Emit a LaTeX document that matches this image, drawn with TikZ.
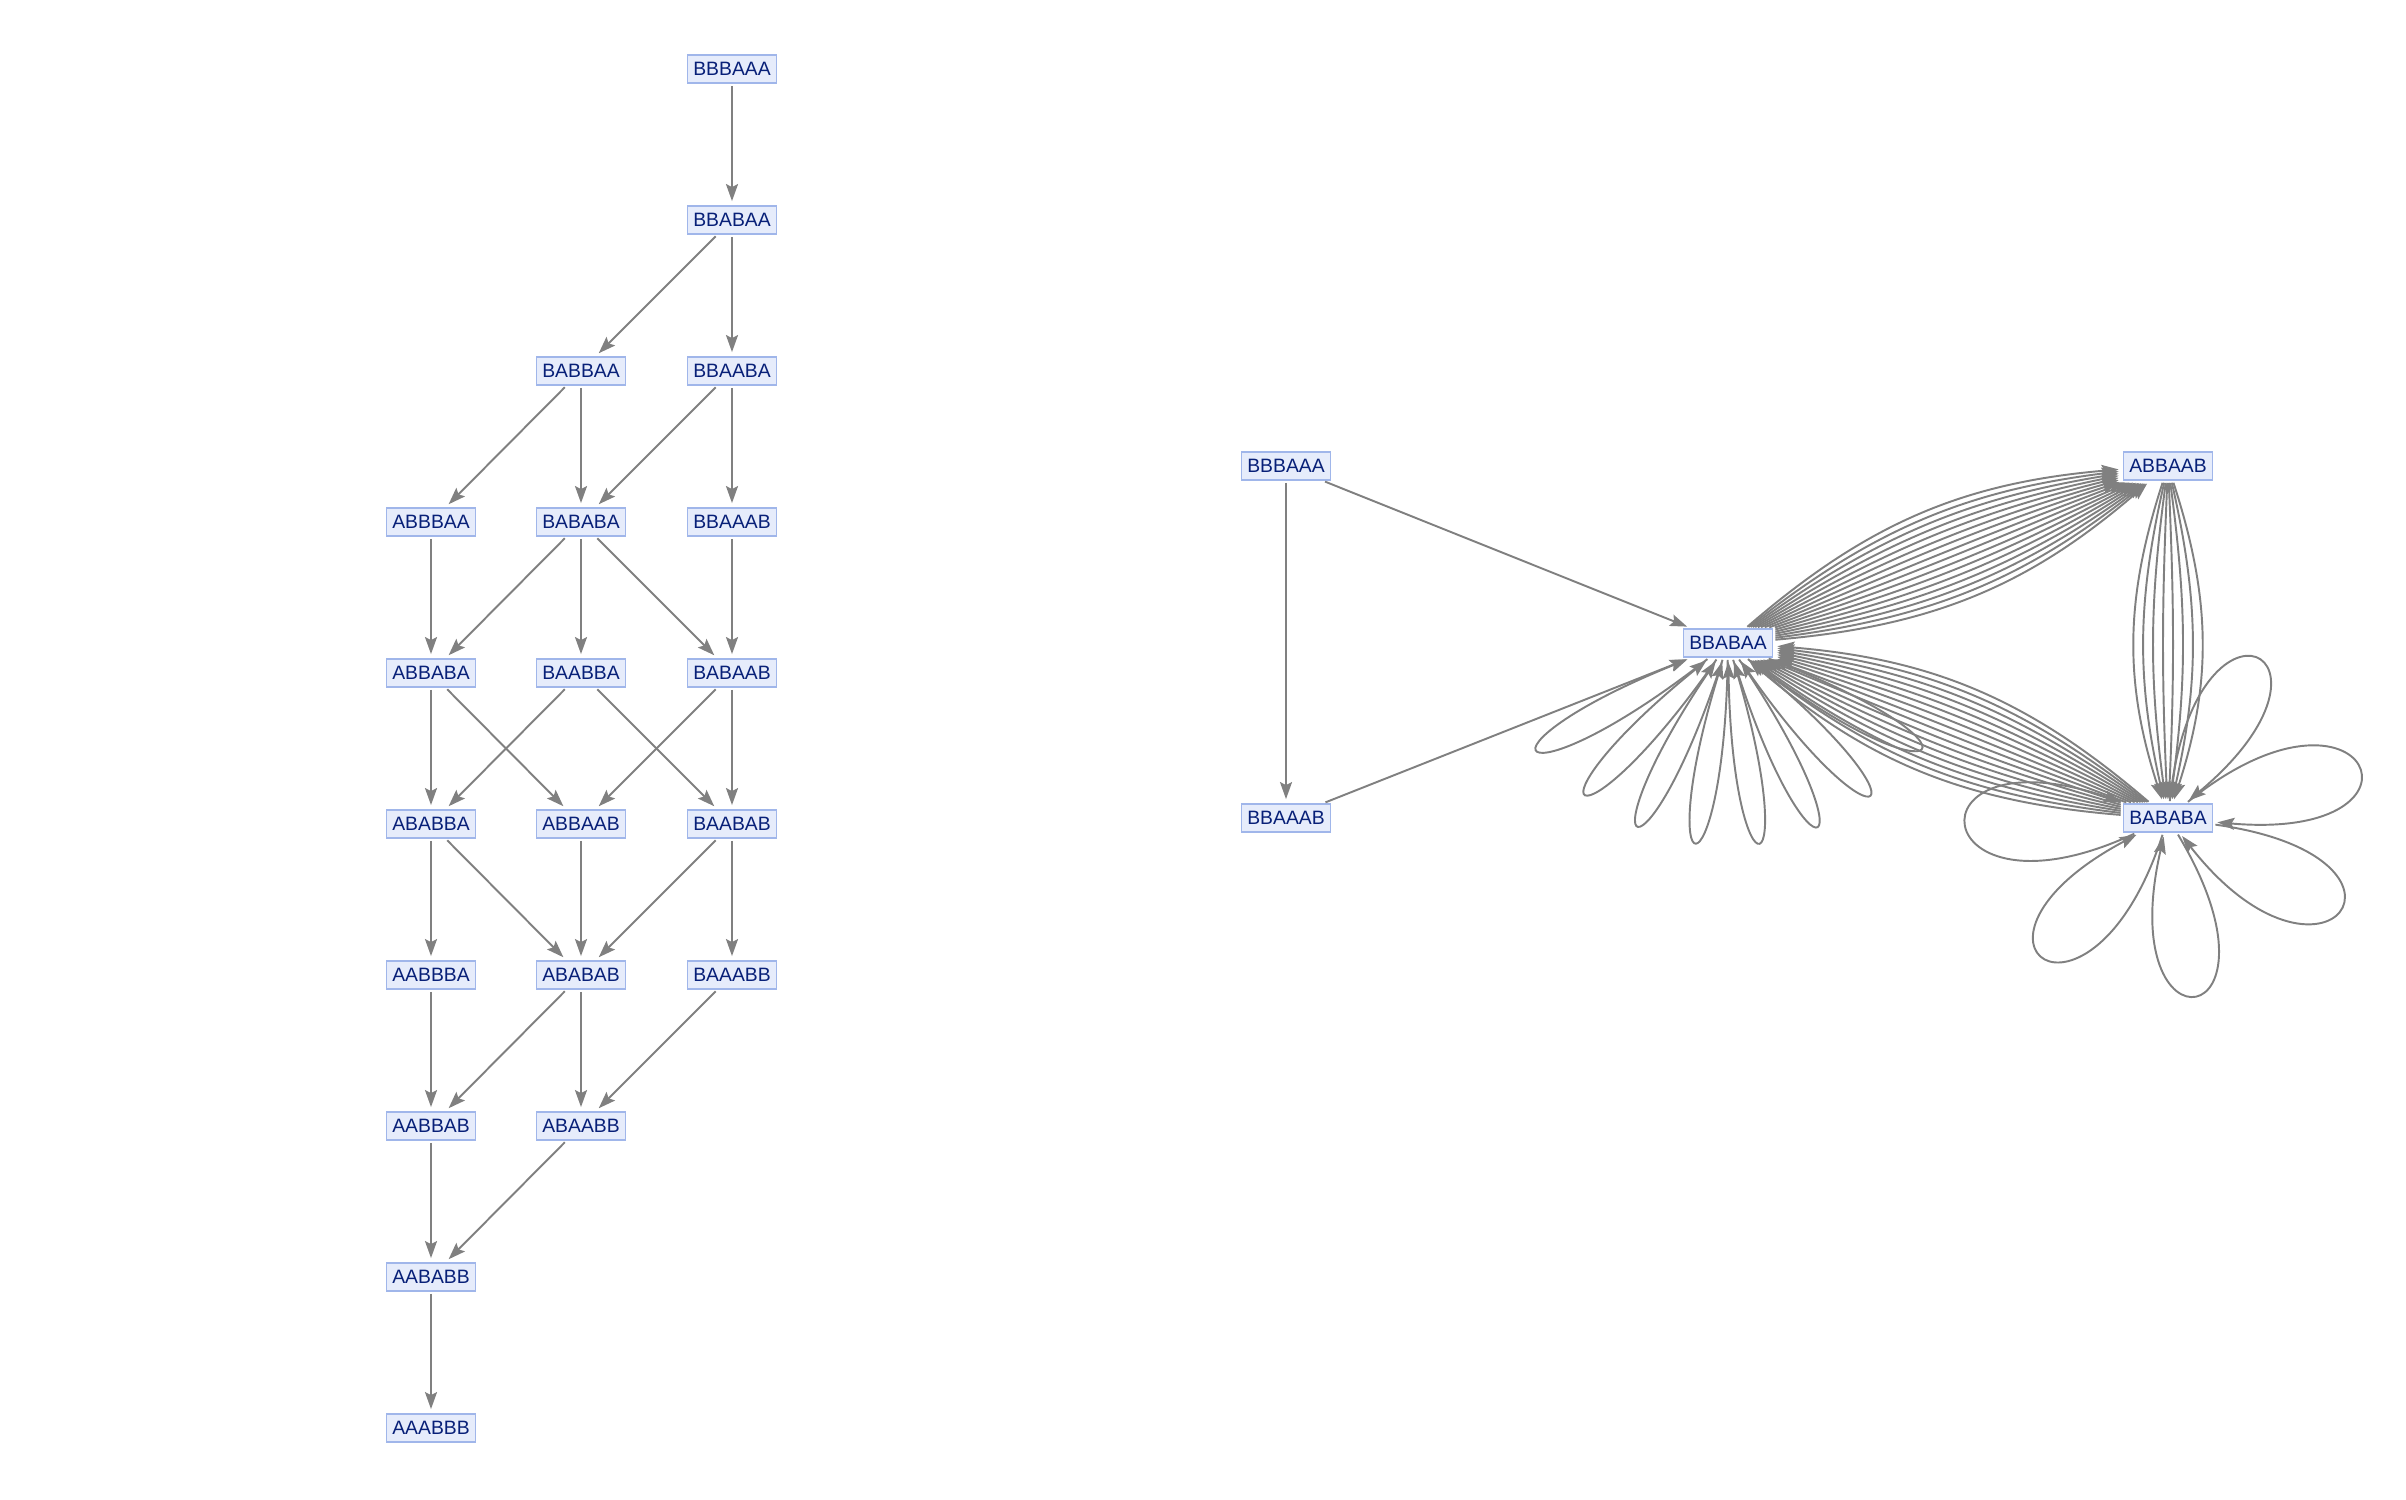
\documentclass[tikz,border=0pt]{standalone}
\usepackage{fontspec}
\setmainfont{Liberation Sans}
\definecolor{statefill}{RGB}{230, 236, 251}
\definecolor{stateframe}{RGB}{160, 182, 234}
\definecolor{statetext}{RGB}{8, 32, 120}
\definecolor{edgegray}{RGB}{128, 128, 128}
\usepackage{tikz}
\usetikzlibrary{arrows.meta, calc}

\begin{document}
\begin{tikzpicture}[x=0.01cm, y=0.01cm,
  state/.style={draw=stateframe, line width=0.5pt, fill=statefill, text=statetext,
    font=\fontsize{5.5}{6}\selectfont, minimum width=0.89cm, minimum height=0.28cm, inner sep=0pt},
  edge/.style={draw=edgegray, line width=0.55pt,
    -{Stealth[length=0.17cm, width=0.12cm, inset=0.03cm]}, shorten >=0.04cm, shorten <=0.02cm}]
\useasboundingbox (0,0) rectangle (2406,1500);

% left: all states
\node[state] (l-BBBAAA) at (732,1431) {BBBAAA};
\node[state] (l-BBABAA) at (732,1280) {BBABAA};
\node[state] (l-BABBAA) at (581,1129) {BABBAA};
\node[state] (l-BBAABA) at (732,1129) {BBAABA};
\node[state] (l-ABBBAA) at (431,978) {ABBBAA};
\node[state] (l-BABABA) at (581,978) {BABABA};
\node[state] (l-BBAAAB) at (732,978) {BBAAAB};
\node[state] (l-ABBABA) at (431,827) {ABBABA};
\node[state] (l-BAABBA) at (581,827) {BAABBA};
\node[state] (l-BABAAB) at (732,827) {BABAAB};
\node[state] (l-ABABBA) at (431,676) {ABABBA};
\node[state] (l-ABBAAB) at (581,676) {ABBAAB};
\node[state] (l-BAABAB) at (732,676) {BAABAB};
\node[state] (l-AABBBA) at (431,525) {AABBBA};
\node[state] (l-ABABAB) at (581,525) {ABABAB};
\node[state] (l-BAAABB) at (732,525) {BAAABB};
\node[state] (l-AABBAB) at (431,374) {AABBAB};
\node[state] (l-ABAABB) at (581,374) {ABAABB};
\node[state] (l-AABABB) at (431,223) {AABABB};
\node[state] (l-AAABBB) at (431,72) {AAABBB};

\foreach \s/\t in {BBBAAA/BBABAA, BBABAA/BABBAA, BBABAA/BBAABA,
    BABBAA/ABBBAA, BABBAA/BABABA, BBAABA/BABABA, BBAABA/BBAAAB,
    ABBBAA/ABBABA, BABABA/ABBABA, BABABA/BAABBA, BABABA/BABAAB, BBAAAB/BABAAB,
    ABBABA/ABABBA, ABBABA/ABBAAB, BAABBA/ABABBA, BAABBA/BAABAB,
    BABAAB/ABBAAB, BABAAB/BAABAB,
    ABABBA/AABBBA, ABABBA/ABABAB, ABBAAB/ABABAB, BAABAB/ABABAB, BAABAB/BAAABB,
    AABBBA/AABBAB, ABABAB/AABBAB, ABABAB/ABAABB, BAAABB/ABAABB,
    AABBAB/AABABB, ABAABB/AABABB, AABABB/AAABBB}
  \draw[edge] (l-\s) -- (l-\t);

% right: merged states
\node[state] (r-BBBAAA) at (1286,1034) {BBBAAA};
\node[state] (r-BBAAAB) at (1286,682) {BBAAAB};
\node[state] (r-BBABAA) at (1728,857) {BBABAA};
\node[state] (r-ABBAAB) at (2168,1034) {ABBAAB};
\node[state] (r-BABABA) at (2168,682) {BABABA};

\draw[edge] (r-BBBAAA) -- (r-BBAAAB);
\draw[edge] (r-BBBAAA) -- (r-BBABAA);
\draw[edge] (r-BBAAAB) -- (r-BBABAA);

\foreach \i [evaluate=\i as \a using -18+\i*36/15] in {0,...,15} {
  \draw[edge] (r-BBABAA) to[bend left=\a] (r-ABBAAB);
  \draw[edge] (r-BABABA) to[bend left=\a] (r-BBABAA);
}
\foreach \i [evaluate=\i as \a using -18+\i*36/7] in {0,...,7}
  \draw[edge] (r-ABBAAB) to[bend left=\a] (r-BABABA);

% self loops
\foreach \k [evaluate=\k as \o using int(218+\k*17.3),
             evaluate=\k as \n using int(202+\k*17.3)] in {0,...,7}
  \draw[edge] (r-BBABAA) to[out=\o, in=\n, min distance=2.5cm] (r-BBABAA);
\foreach \t [evaluate=\t as \o using int(\t+22),
             evaluate=\t as \n using int(\t-22)] in {62,17,330,279,230,183}
  \draw[edge] (r-BABABA) to[out=\o, in=\n, min distance=2.35cm] (r-BABABA);
\end{tikzpicture}
\end{document}
